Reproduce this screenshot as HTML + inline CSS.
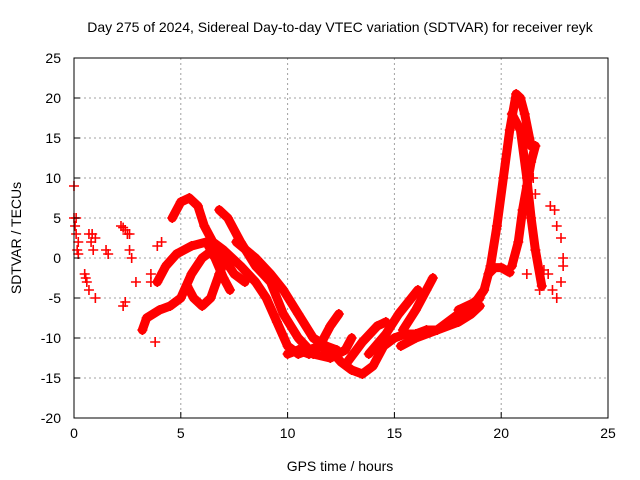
<!DOCTYPE html>
<html><head><meta charset="utf-8"><style>
body{margin:0;background:#fff}
svg{display:block;font-family:"Liberation Sans",sans-serif}
</style></head><body>
<svg id="chart" width="640" height="480">
<text x="340" y="32" font-size="14" text-anchor="middle">Day 275 of 2024, Sidereal Day-to-day VTEC variation (SDTVAR) for receiver reyk</text>
<text x="340" y="471" font-size="14" text-anchor="middle">GPS time / hours</text>
<text transform="translate(21,238) rotate(-90)" font-size="14" text-anchor="middle">SDTVAR / TECUs</text>
<g id="grid"></g><g id="marks"></g><g id="axes"></g>
</svg>
<script>
const xTicks=[0,5,10,15,20,25];
const yTicks=[-20,-15,-10,-5,0,5,10,15,20,25];
const trackA=[[4.6,5],[5,7],[5.4,7.5],[5.8,6.5],[6.1,4],[6.5,2],[7,1],[7.8,-1],[8.5,-3],[9,-5],[9.5,-8],[10,-11],[10.5,-12],[11,-11.5],[11.5,-11],[12,-11.5]];
const trackB=[[6.8,6],[7.2,5],[7.8,2],[8.5,-1],[9.2,-3],[9.8,-7],[10.5,-10],[11.2,-12],[12,-12.5],[12.7,-11.5],[13,-10]];
const trackC=[[7.6,2],[8.5,0],[9.2,-2],[9.8,-4],[10.5,-7],[11.2,-10],[11.8,-11],[12.3,-11.5]];
const trackD=[[3.2,-9],[3.4,-7.5],[4,-6.5],[4.5,-6],[5,-5],[5.5,-2],[6,0],[6.5,1],[7,0],[7.5,-2],[8,-3]];
const trackE=[[3.9,-3],[4.3,-1],[4.8,0.5],[5.5,1.5],[6.2,2],[6.6,0],[7,-2.5],[7.3,-4]];
const trackF=[[5.3,-3.5],[5.6,-5],[6,-6],[6.4,-5],[6.8,-2],[7.1,0]];
const trackG=[[10,-12],[10.5,-11.5],[11,-12],[11.5,-11],[12,-11.5],[12.5,-13],[13,-14],[13.5,-14.5],[14,-13.5],[14.5,-11],[15,-10],[15.5,-9.5],[16,-9.5],[16.5,-9],[17,-9],[17.5,-8],[18,-7],[18.5,-6],[19,-5]];
const trackH=[[11.5,-11],[12,-8.5],[12.4,-7]];
const trackI=[[12.8,-13],[13.5,-10.5],[14.2,-8.5],[14.6,-8]];
const trackJ=[[13.8,-12],[14.6,-9.5],[15.2,-7],[15.8,-5],[16.1,-4]];
const trackK=[[15.4,-9],[16,-6.5],[16.5,-4],[16.8,-2.5]];
const trackL=[[15.3,-11],[16,-10],[17,-9],[18,-8],[18.6,-7],[19,-6]];
const trackM=[[18,-6.5],[18.8,-5.5],[19.2,-4],[19.5,-1],[19.8,4],[20.1,10],[20.4,16],[20.7,20.5],[20.9,20],[21.1,18],[21.4,14]];
const trackN=[[19.4,-2],[19.7,-1.2],[20,-1.2],[20.4,-1.8]];
const trackO=[[20.5,-1],[20.8,2],[21,6],[21.2,9],[21.4,12],[21.6,14]];
const trackP=[[20.5,18],[20.9,16],[21.2,10],[21.4,5],[21.6,1],[21.9,-3.5]];
const scatterPts=[[0,5],[0.05,4],[0.1,3],[0.15,1],[0.2,0.5],[0.5,-2],[0.6,-3],[0.7,-4],[1,-5],[0.7,3],[0.8,2],[0.9,1],[1.6,0.5],[1.5,1],[2.2,4],[2.4,3.5],[2.5,3],[2.6,1],[2.7,0],[2.3,-6],[2.4,-5.5],[2.9,-3],[3.6,-3],[3.6,-2],[3.8,-10.5],[3.9,1.5],[4.1,2],[22.3,6.5],[22.5,6],[22.6,4],[22.8,2.5],[22.9,0],[22.2,-2],[22.4,-4],[22.6,-5],[22.8,-3],[22.9,-1],[22,-1.5],[21.8,-4],[21.5,10],[21.6,8],[21.2,-2],[0,9],[0.1,5],[0.2,2],[0.55,-2.5],[0.85,3],[1,2.5],[2.3,3.8],[2.6,3]];
const tracks=[trackA,trackB,trackC,trackD,trackE,trackF,trackG,trackH,trackI,trackJ,trackK,trackL,trackM,trackN,trackO,trackP];
const X0=74,X1=608,Y0=418,Y1=58;
const sx=v=>X0+(v-0)/25*(X1-X0);
const sy=v=>Y0-(v+20)/45*(Y0-Y1);
const NS="http://www.w3.org/2000/svg";
const mk=(t,a,p)=>{const e=document.createElementNS(NS,t);for(const k in a)e.setAttribute(k,a[k]);p.appendChild(e);return e;};
const grid=document.getElementById('grid'),marks=document.getElementById('marks'),axes=document.getElementById('axes');
xTicks.forEach(t=>{
 const gl=mk('line',{x1:sx(t),x2:sx(t),y1:Y1,y2:Y0,stroke:'#a0a0a0','stroke-dasharray':'2,3'},grid);
 
 
 const tk=mk('line',{x1:sx(t),x2:sx(t),y1:Y0,y2:Y0-6,stroke:'#000'},axes);
 
 
 const lb=mk('text',{x:sx(t),y:Y0+20,'font-size':14,'text-anchor':'middle'},axes);lb.textContent=t;
 
 
});
yTicks.forEach(t=>{
 const gl=mk('line',{x1:X0,x2:X1,y1:sy(t),y2:sy(t),stroke:'#a0a0a0','stroke-dasharray':'2,3'},grid);
 
 
 const tk=mk('line',{x1:X0,x2:X0+6,y1:sy(t),y2:sy(t),stroke:'#000'},axes);
 
 
 const lb=mk('text',{x:X0-13,y:sy(t)+5,'font-size':14,'text-anchor':'end'},axes);lb.textContent=t;
 
 
});
const fr=mk('rect',{x:X0,y:Y1,width:X1-X0,height:Y0-Y1,fill:'none',stroke:'#000'},axes);


function plus(x,y){
 const p=mk('path',{d:`M${x-5} ${y}h10M${x} ${y-5}v10`,stroke:'#f00','stroke-width':1.6},marks);
 
 
}
tracks.forEach(tr=>{
 const pl=mk('polyline',{points:tr.map(p=>sx(p[0])+','+sy(p[1])).join(' '),fill:'none',stroke:'#f00','stroke-width':9,'stroke-linejoin':'round','stroke-linecap':'round'},marks);
 
 
 tr.forEach(p=>plus(sx(p[0]),sy(p[1])));
});
scatterPts.forEach(p=>plus(sx(p[0]),sy(p[1])));
</script>
</body></html>
